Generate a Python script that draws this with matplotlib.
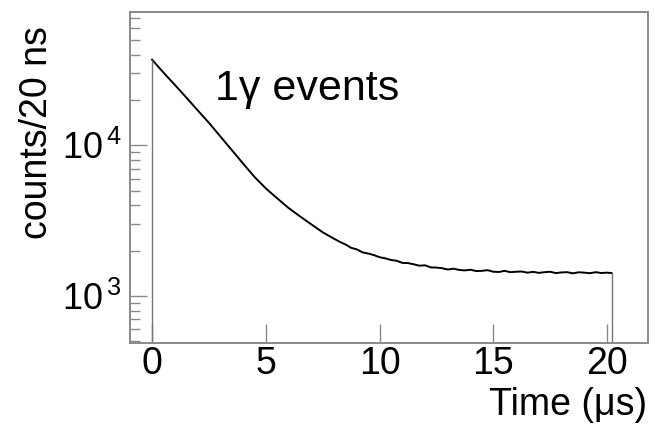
import numpy as np
import matplotlib
matplotlib.use("Agg")
from matplotlib import pyplot as plt
from matplotlib.ticker import LogLocator, FixedLocator, FixedFormatter, NullFormatter

# decay spectrum, counts per 20 ns bin vs time [us]
times = [0.0, 0.5, 1.0, 1.5, 2.0, 2.5, 3.0, 3.5, 4.0, 4.5, 5.0, 5.5, 6.0,
         6.5, 7.0, 7.5, 8.0, 8.25, 8.5, 8.75, 9.0, 9.25, 9.5, 9.75, 10.0,
         10.25, 10.5, 10.75, 11.0, 11.25, 11.5, 11.75, 12.0, 12.25, 12.5,
         12.75, 13.0, 13.25, 13.5, 13.75, 14.0, 14.25, 14.5, 14.75, 15.0,
         15.25, 15.5, 15.75, 16.0, 16.25, 16.5, 16.75, 17.0, 17.25, 17.5,
         17.75, 18.0, 18.25, 18.5, 18.75, 19.0, 19.25, 19.5, 19.75, 20.0, 20.2]
counts = [37000, 30400, 25200, 20800, 17100, 14100, 11460, 9320, 7570, 6180,
          5180, 4450, 3840, 3380, 2990, 2650, 2400, 2290, 2200, 2090, 2040,
          1950, 1915, 1870, 1810, 1780, 1735, 1715, 1660, 1655, 1625, 1590,
          1600, 1550, 1545, 1530, 1500, 1520, 1490, 1480, 1495, 1465, 1470,
          1485, 1450, 1445, 1470, 1440, 1450, 1455, 1430, 1448, 1425, 1440,
          1450, 1420, 1435, 1440, 1415, 1438, 1430, 1418, 1440, 1422, 1430, 1420]

xticks = [0, 5, 10, 15, 20]
yticks = [1e3, 1e4]
ytick_labels = [r"$\mathregular{10^{\,3}}$", r"$\mathregular{10^{\,4}}$"]

plt.rcParams["font.family"] = ["Liberation Sans", "DejaVu Sans"]
plt.rcParams["mathtext.fontset"] = "custom"
plt.rcParams["mathtext.rm"] = "Liberation Sans"

frame = "#8a8a8a"

fig = plt.figure(figsize=(6.55, 4.25), dpi=100)
ax = fig.add_axes([0.1985, 0.1929, 0.7908, 0.7789])

ax.plot(times, counts, "-k", lw=1.4)
y_lo, y_hi = 488, 76700
ax.vlines([times[0], times[-1]], y_lo, [counts[0], counts[-1]],
          color="#777777", lw=1.0)

ax.set_yscale("log")
ax.set_xlim(-0.97, 21.8)
ax.set_ylim(y_lo, y_hi)

ax.xaxis.set_major_locator(FixedLocator(xticks))
ax.yaxis.set_major_locator(FixedLocator(yticks))
ax.yaxis.set_major_formatter(FixedFormatter(ytick_labels))
ax.yaxis.set_minor_locator(LogLocator(base=10, subs=np.arange(2, 10)))
ax.yaxis.set_minor_formatter(NullFormatter())

for s in ax.spines.values():
    s.set_color(frame)
    s.set_linewidth(1.4)

ax.tick_params(axis="x", which="major", direction="in", length=13.5,
               width=1.0, color=frame, labelsize=27, pad=2)
ax.tick_params(axis="y", which="major", direction="in", length=12,
               width=1.0, color=frame, labelsize=26, pad=6)
ax.tick_params(axis="y", which="minor", direction="in", length=7,
               width=1.0, color=frame)

ax.text(0.164, 0.733, "1\u03b3 events", transform=ax.transAxes,
        fontsize=31, va="baseline", ha="left")

fig.text(647 / 655, 1 - 415 / 425, "Time (\u03bcs)", fontsize=27,
         ha="right", va="baseline")
fig.text(37 / 655, 1 - 133 / 425, "counts/20 ns", fontsize=27,
         rotation=90, ha="center", va="center")

plt.savefig("out.png", dpi=100)
